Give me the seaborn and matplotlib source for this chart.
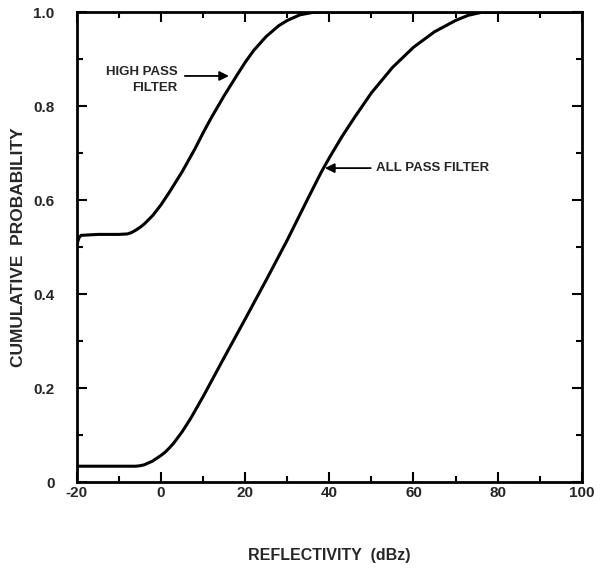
import matplotlib
matplotlib.use("Agg")
import matplotlib.pyplot as plt
import seaborn as sns
import pandas as pd
from matplotlib.ticker import MultipleLocator

# Data
all_pass_x = [-20, -10, -6, -5, -4, -3, -2, -1, 0, 1, 2, 3, 5, 7, 10, 15, 20, 25, 30, 35, 38, 40, 43, 46, 50, 55, 60, 65, 70, 73, 76, 78, 100]
all_pass_y = [0.034, 0.034, 0.034, 0.035, 0.037, 0.041, 0.045, 0.051, 0.057, 0.064, 0.073, 0.083, 0.107, 0.135, 0.182, 0.265, 0.347, 0.43, 0.515, 0.605, 0.658, 0.69, 0.735, 0.776, 0.828, 0.882, 0.925, 0.958, 0.982, 0.993, 0.999, 1.0, 1.0]

high_pass_x = [-20, -19.5, -19, -15, -10, -8, -7, -6, -5, -4, -2, 0, 2, 5, 8, 10, 12, 15, 18, 20, 22, 25, 28, 30, 33, 36, 38, 100]
high_pass_y = [0.505, 0.52, 0.525, 0.527, 0.527, 0.528, 0.531, 0.536, 0.542, 0.549, 0.567, 0.59, 0.617, 0.66, 0.708, 0.743, 0.776, 0.822, 0.865, 0.893, 0.918, 0.948, 0.971, 0.982, 0.994, 0.999, 1.0, 1.0]

x_ticks = [-20, 0, 20, 40, 60, 80, 100]
y_ticks = [0, 0.2, 0.4, 0.6, 0.8, 1.0]
y_tick_labels = ["0", "0.2", "0.4", "0.6", "0.8", "1.0"]

sns.set_theme(style="ticks")
plt.rcParams['font.family'] = ['Liberation Sans', 'DejaVu Sans']

fig = plt.figure(figsize=(6.15, 5.72), dpi=100)
ax = fig.add_axes([0.125, 0.157, 0.821, 0.822])

df_all = pd.DataFrame({"x": all_pass_x, "y": all_pass_y})
df_high = pd.DataFrame({"x": high_pass_x, "y": high_pass_y})
sns.lineplot(data=df_all, x="x", y="y", ax=ax, color="black", linewidth=2.2, sort=False)
sns.lineplot(data=df_high, x="x", y="y", ax=ax, color="black", linewidth=2.2, sort=False)

ax.set_xlim(-20, 100)
ax.set_ylim(0, 1.0)
ax.set_xticks(x_ticks)
ax.set_xticklabels([str(v) for v in x_ticks], fontweight="bold", fontsize=11)
ax.set_yticks(y_ticks)
ax.set_yticklabels(y_tick_labels, fontweight="bold", fontsize=11)
ax.xaxis.set_minor_locator(MultipleLocator(10))
ax.yaxis.set_minor_locator(MultipleLocator(0.1))
ax.tick_params(which="both", direction="in", top=True, right=True, color="black", width=1.5)
ax.tick_params(which="major", length=7)
ax.tick_params(which="minor", length=4)
ax.tick_params(axis="x", which="major", pad=3)
ax.tick_params(axis="y", which="major", pad=16)
for s in ax.spines.values():
    s.set_linewidth(2.0)
    s.set_color("black")

ax.set_xlabel("REFLECTIVITY  (dBz)", fontweight="bold", fontsize=11.5, labelpad=34)
ax.set_ylabel("CUMULATIVE  PROBABILITY", fontweight="bold", fontsize=12.5, labelpad=5)

ax.annotate("", xy=(16.8, 0.864), xytext=(5, 0.864),
            arrowprops=dict(arrowstyle="-|>", color="black", lw=1.3, mutation_scale=14))
ax.text(4, 0.873, "HIGH PASS", ha="right", va="center", fontweight="bold", fontsize=9.5)
ax.text(4, 0.838, "FILTER", ha="right", va="center", fontweight="bold", fontsize=9.5)

ax.annotate("", xy=(38.3, 0.668), xytext=(50.5, 0.668),
            arrowprops=dict(arrowstyle="-|>", color="black", lw=1.3, mutation_scale=14))
ax.text(51, 0.668, "ALL PASS FILTER", ha="left", va="center", fontweight="bold", fontsize=9.5)

fig.savefig("out.png", dpi=100)
